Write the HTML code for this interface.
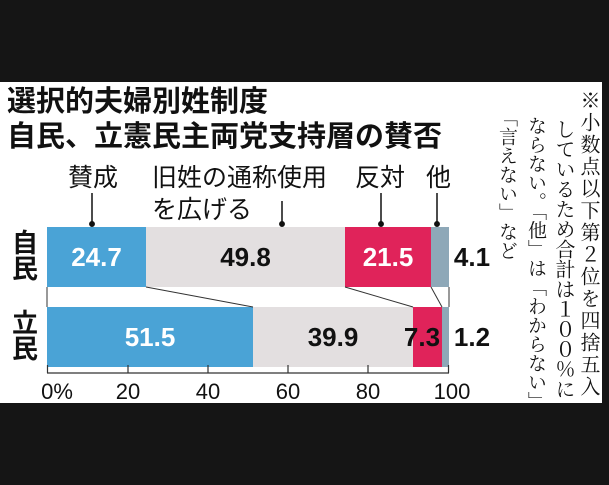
<!DOCTYPE html>
<html><head><meta charset="utf-8"><style>
body{margin:0;width:609px;height:485px;background:#151515;overflow:hidden;position:relative;font-family:"Liberation Sans","Noto Sans CJK JP",sans-serif}
#p{position:absolute;left:0;top:82px;width:602px;height:321px;background:#fff}
.a{position:absolute;white-space:nowrap}
.t{font-weight:bold;font-size:29px;color:#111;left:7px;line-height:32px}
.l{font-size:25px;color:#111;line-height:26px}
.v{font-weight:bold;font-size:26px;line-height:26px;text-align:center}
.r{font-weight:bold;font-size:26px;color:#111;left:12px;line-height:26px}
.n{writing-mode:vertical-rl;font-family:"Noto Serif CJK SC",serif;line-height:26px;color:#111}
.ax{font-size:22px;color:#111;line-height:22px;transform:translateX(-50%)}
</style></head><body>
<div id="p"></div>
<div class="a t" style="top:86px">選択的夫婦別姓制度</div>
<div class="a t" style="top:121px">自民、立憲民主両党支持層の賛否</div>
<div class="a l" style="left:68px;top:165px">賛成</div>
<div class="a l" style="left:152px;top:165px">旧姓の通称使用</div>
<div class="a l" style="left:152px;top:197px">を広げる</div>
<div class="a l" style="left:355px;top:165px">反対</div>
<div class="a l" style="left:426px;top:165px">他</div>
<svg class="a" style="left:0;top:0" width="609" height="485">
<g stroke="#111" stroke-width="1.5" fill="#111">
<line x1="92" y1="193" x2="92" y2="224"/><circle cx="92" cy="224" r="2.2"/>
<line x1="282" y1="201" x2="282" y2="224"/><circle cx="282" cy="224" r="2.2"/>
<line x1="381" y1="193" x2="381" y2="224"/><circle cx="381" cy="224" r="2.2"/>
<line x1="437" y1="193" x2="437" y2="224"/><circle cx="437" cy="224" r="2.2"/>
</g>
<rect x="47" y="227" width="99" height="60" fill="#4aa3d6"/>
<rect x="146" y="227" width="199" height="60" fill="#e3dfe0"/>
<rect x="345" y="227" width="86" height="60" fill="#e0235a"/>
<rect x="431" y="227" width="18" height="60" fill="#8ea8b8"/>
<rect x="47" y="307" width="206" height="60" fill="#4aa3d6"/>
<rect x="253" y="307" width="160" height="60" fill="#e3dfe0"/>
<rect x="413" y="307" width="29" height="60" fill="#e0235a"/>
<rect x="442" y="307" width="7" height="60" fill="#8ea8b8"/>
<g stroke="#333" stroke-width="1">
<line x1="47" y1="287" x2="47" y2="307"/><line x1="449" y1="287" x2="449" y2="307"/>
<line x1="146" y1="287" x2="253" y2="307"/>
<line x1="345" y1="287" x2="413" y2="307"/>
<line x1="431" y1="287" x2="442" y2="307"/>
</g>
<g stroke="#333" stroke-width="1.2">
<line x1="47" y1="373" x2="449" y2="373"/>
<line x1="47.5" y1="365" x2="47.5" y2="373"/><line x1="128" y1="365" x2="128" y2="373"/>
<line x1="208" y1="365" x2="208" y2="373"/><line x1="288" y1="365" x2="288" y2="373"/>
<line x1="368" y1="365" x2="368" y2="373"/><line x1="448.5" y1="365" x2="448.5" y2="373"/>
</g>
</svg>
<div class="a v" style="left:47px;width:99px;top:244px;color:#fff">24.7</div>
<div class="a v" style="left:146px;width:199px;top:244px;color:#111">49.8</div>
<div class="a v" style="left:345px;width:86px;top:244px;color:#fff">21.5</div>
<div class="a v" style="left:452px;width:40px;top:244px;color:#111">4.1</div>
<div class="a v" style="left:47px;width:206px;top:324px;color:#fff">51.5</div>
<div class="a v" style="left:253px;width:160px;top:324px;color:#111">39.9</div>
<div class="a v" style="left:397px;width:50px;top:324px;color:#111">7.3</div>
<div class="a v" style="left:452px;width:40px;top:324px;color:#111">1.2</div>
<div class="a r" style="top:230px">自</div>
<div class="a r" style="top:256px">民</div>
<div class="a r" style="top:310px">立</div>
<div class="a r" style="top:336px">民</div>
<div class="a ax" style="left:57px;top:381px">0%</div>
<div class="a ax" style="left:128px;top:381px">20</div>
<div class="a ax" style="left:208px;top:381px">40</div>
<div class="a ax" style="left:288px;top:381px">60</div>
<div class="a ax" style="left:368px;top:381px">80</div>
<div class="a ax" style="left:452px;top:381px">100</div>
<div class="a n" style="left:577px;top:90px;font-size:20px;letter-spacing:2px">※小数点以下第２位を四捨五入</div>
<div class="a n" style="left:552px;top:119px;font-size:20px;letter-spacing:0px">しているため合計は１００％に</div>
<div class="a n" style="left:524px;top:116px;font-size:19px">ならない。「他」は「わからない」</div>
<div class="a n" style="left:495px;top:108px;font-size:19px">「言えない」など</div>
</body></html>
